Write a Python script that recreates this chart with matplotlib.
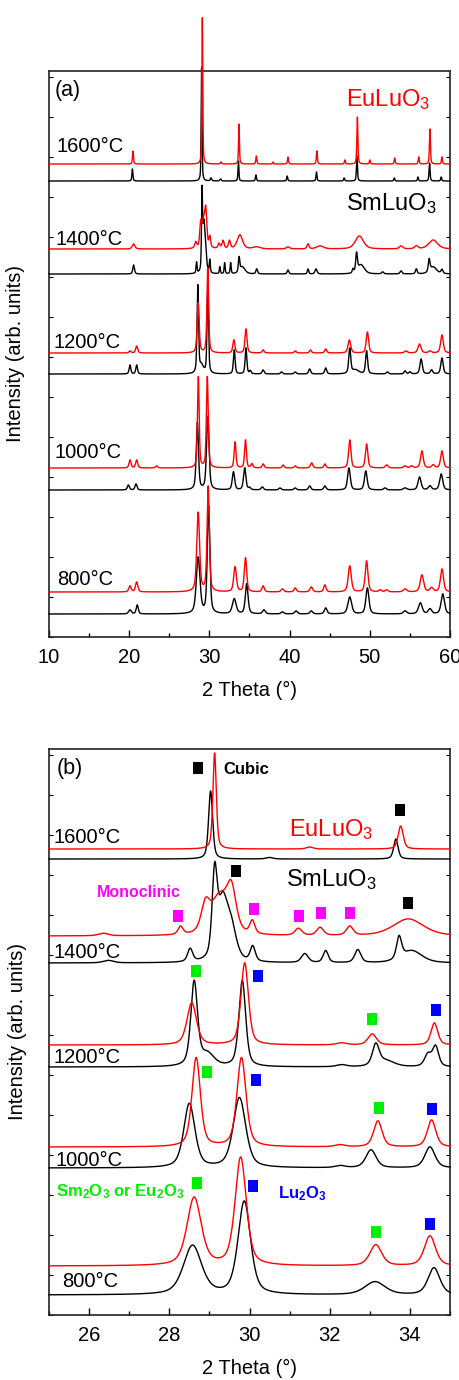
import numpy as np
import matplotlib
matplotlib.use('Agg')
import matplotlib.pyplot as plt
from matplotlib.ticker import MultipleLocator, NullFormatter
from matplotlib.path import Path

plt.rcParams['font.family'] = ['Liberation Sans', 'DejaVu Sans']
plt.rcParams['mathtext.fontset'] = 'custom'
plt.rcParams['mathtext.rm'] = 'Liberation Sans'
plt.rcParams['mathtext.bf'] = 'Liberation Sans:bold'
plt.rcParams['mathtext.it'] = 'Liberation Sans:italic'

# ---------------- data ----------------
temps = ['1600°C', '1400°C', '1200°C', '1000°C', '800°C']

# stacking offsets (arb. units) for EuLuO3 (red) and SmLuO3 (black)
a_red_offsets = [473, 388, 284, 169, 45]
a_black_offsets = [456, 363, 263, 147, 23]
b_red_offsets = [466, 379, 270, 168, 49]
b_black_offsets = [456, 352, 248, 147, 20]

# peaks: (2theta, height, FWHM)
a_red_peaks = [
    [(20.47, 13, .15), (29.12, 147, .13), (31.45, 2, .15), (33.69, 40, .13), (35.85, 8, .15),
     (37.93, 2, .15), (39.8, 7, .15), (43.4, 13, .15), (46.9, 4, .15), (48.45, 47, .15),
     (50.0, 4, .15), (53.1, 6, .15), (56.1, 7, .15), (57.5, 35, .15), (59.0, 7, .15)],
    [(20.55, 5, .4), (28.3, 6, .3), (28.9, 20, .25), (29.25, 27, .5), (29.55, 32, .3),
     (30.05, 11, .25), (31.2, 5, .3), (31.7, 8, .3), (32.5, 8, .3), (33.8, 14, .8),
     (35.9, 2, 1.0), (39.8, 2, .5), (42.3, 5, .3), (43.8, 3, 1.0), (48.7, 13, 1.2),
     (53.9, 3, .5), (55.8, 3, .5), (57.9, 9, 1.3)],
    [(20.1, 2, .3), (20.93, 7, .3), (28.6, 50, .3), (29.8, 85, .25), (33.05, 13, .3),
     (34.56, 24, .3), (36.7, 3, .3), (40.7, 2, .3), (42.6, 3, .3), (44.5, 4, .3),
     (47.45, 13, .4), (49.7, 21, .35), (54.5, 2, .4), (56.2, 9, .45), (57.5, 2, .4),
     (59.0, 18, .4)],
    [(20.1, 8, .3), (20.93, 8, .3), (23.4, 2, .3), (28.62, 91, .25), (29.74, 91, .27),
     (33.2, 26, .27), (34.5, 28, .27), (35.3, 4, .3), (36.7, 4, .3), (39.2, 3, .3),
     (40.7, 2, .3), (42.75, 5, .35), (44.4, 4, .3), (47.5, 28, .35), (49.6, 24, .35),
     (52.1, 3, .4), (54.4, 2, .4), (55.2, 2, .4), (56.5, 17, .4), (57.9, 3, .4),
     (59.0, 17, .4)],
    [(20.1, 6, .35), (20.93, 10, .35), (28.6, 79, .42), (29.85, 105, .33), (33.2, 25, .4),
     (34.5, 34, .35), (36.7, 6, .35), (39.1, 3, .4), (40.7, 4, .35), (42.7, 5, .4),
     (44.4, 7, .35), (47.5, 26, .45), (49.6, 31, .4), (51.3, 2, .4), (52.1, 2, .4),
     (54.4, 3, .5), (56.5, 17, .5), (57.7, 4, .5), (59.0, 23, .45)],
]
a_black_peaks = [
    [(20.40, 12, .15), (29.03, 114, .13), (30.2, 3, .2), (31.4, 2, .2), (33.62, 20, .13),
     (35.8, 6, .15), (39.7, 5, .15), (43.35, 9, .15), (46.8, 3, .15), (48.4, 25, .15),
     (53.05, 3, .15), (56.0, 4, .15), (57.45, 18, .15), (58.9, 4, .15)],
    [(20.55, 9, .25), (28.4, 11, .15), (29.08, 75, .15), (29.3, 45, .3), (29.52, 22, .3),
     (30.05, 13, .15), (31.3, 7, .15), (31.9, 11, .15), (32.65, 11, .15), (33.7, 14, .2),
     (34.1, 7, .8), (35.9, 5, .25), (39.8, 4, .25), (42.3, 5, .2), (43.3, 5, .3),
     (47.9, 4, .2), (48.35, 18, .25), (48.9, 9, 1.0), (51.6, 2, .3), (53.9, 3, .3),
     (55.8, 5, .25), (57.4, 12, .25), (57.9, 7, 1.0), (59.0, 4, .3)],
    [(20.1, 9, .25), (20.93, 9, .25), (28.55, 87, .22), (29.0, 8, .6), (29.8, 89, .22),
     (33.1, 24, .25), (34.56, 26, .25), (35.1, 3, .25), (36.7, 4, .3), (39.0, 2, .3),
     (40.7, 2, .3), (42.5, 5, .3), (44.5, 6, .3), (47.5, 25, .3), (48.2, 4, 1.0),
     (49.6, 23, .3), (52.2, 2, .3), (54.4, 3, .3), (55.0, 2, .3), (56.4, 15, .35),
     (57.7, 4, .35), (59.0, 16, .35)],
    [(19.9, 5, .3), (20.85, 6, .3), (28.5, 67, .33), (29.8, 73, .37), (33.0, 18, .35),
     (34.4, 22, .35), (35.0, 2, .3), (36.6, 3, .35), (38.8, 2, .35), (40.7, 2, .35),
     (42.5, 4, .35), (44.4, 4, .35), (47.4, 22, .4), (49.5, 19, .4), (51.9, 2, .4),
     (54.4, 2, .5), (56.2, 13, .45), (57.5, 4, .45), (58.9, 16, .45)],
    [(20.1, 4, .4), (21.0, 9, .3), (28.6, 56, .54), (29.9, 107, .37), (33.1, 15, .55),
     (34.65, 30, .4), (36.8, 4, .4), (39.1, 2, .4), (40.8, 3, .4), (42.7, 3, .4),
     (44.5, 6, .4), (47.5, 17, .55), (49.7, 26, .45), (54.4, 3, .5), (56.3, 11, .55),
     (57.5, 5, .5), (59.1, 20, .5)],
]

b_red_peaks = [
    [(29.13, 96, .10), (31.5, 2, .2), (33.77, 23, .15)],
    [(26.35, 2.5, .3), (28.28, 8, .15), (28.9, 26, .25), (29.25, 38, .5), (29.55, 40, .28),
     (30.07, 13, .15), (31.22, 7, .2), (31.76, 8, .2), (32.5, 9, .2), (33.96, 17, .9)],
    [(28.56, 42, .28), (29.88, 82, .22), (32.3, 2, .3), (33.06, 11, .25), (34.61, 22, .2)],
    [(28.67, 89, .25), (29.8, 89, .27), (32.26, 2, .3), (33.2, 26, .25), (34.54, 27, .25)],
    [(28.62, 68, .42), (29.78, 108, .33), (33.15, 21, .35), (34.5, 30, .33)],
]
b_black_peaks = [
    [(29.03, 68, .12), (30.5, 1.5, .2), (33.65, 20, .13)],
    [(26.48, 2.5, .3), (28.52, 13, .15), (29.13, 80, .15), (29.33, 58, .3), (29.55, 30, .3),
     (30.08, 15, .15), (31.38, 9, .2), (31.9, 12, .15), (32.7, 13, .18), (33.73, 22, .15),
     (34.05, 12, .6)],
    [(28.62, 84, .2), (28.95, 12, .4), (29.82, 86, .2), (32.3, 2, .3), (33.15, 21, .2),
     (33.4, 6, .5), (34.45, 12, .2), (34.64, 20, .18)],
    [(28.5, 64, .33), (29.75, 70, .37), (32.26, 2, .3), (33.03, 18, .3), (34.5, 21, .3)],
    [(28.58, 49, .54), (29.87, 93, .37), (33.13, 13, .6), (34.6, 27, .35)],
]

# phase markers in panel (b): (2theta, height)
cubic_marks = [(28.72, 547), (33.75, 505), (29.66, 444), (33.95, 412)]
mono_marks = [(28.22, 399), (30.12, 406), (31.23, 399), (31.78, 402), (32.51, 402)]
re2o3_marks = [(28.67, 344), (33.06, 296), (28.93, 243), (33.23, 207), (28.68, 132), (33.15, 83)]
lu2o3_marks = [(30.2, 339), (34.64, 305), (30.16, 235), (34.55, 206), (30.08, 129), (34.51, 91)]

RED = '#ff0000'
MAG = '#ff00ff'
GRN = '#00ee00'
BLU = '#0000ff'


def profile(x, peaks):
    y = np.zeros_like(x)
    for p, h, w in peaks:
        r2 = ((x - p) / (w / 2.0)) ** 2
        y += h * (0.5 / (1 + r2) + 0.5 * np.exp(-np.log(2) * r2))
    return y


W, H = 460, 1380
fig = plt.figure(figsize=(W / 100, H / 100), dpi=100)


def fpos(px, py):
    return px / W, 1 - py / H


axa = fig.add_axes([49 / W, 1 - 637 / H, 401 / W, 566 / H])
axb = fig.add_axes([49 / W, 1 - 1315 / H, 401 / W, 566 / H])

FS = 14.5

for ax, (x0, x1), reds, blacks, roff, boff, maj, mnr in [
        (axa, (10, 60), a_red_peaks, a_black_peaks, a_red_offsets, a_black_offsets, 10, 5),
        (axb, (25, 35), b_red_peaks, b_black_peaks, b_red_offsets, b_black_offsets, 2, 1)]:
    x = np.linspace(x0, x1, 4001)
    for i in range(len(temps)):
        ax.plot(x, boff[i] + profile(x, blacks[i]), color='black', lw=1.0, clip_on=False, zorder=3)
        ax.plot(x, roff[i] + profile(x, reds[i]), color=RED, lw=1.0, clip_on=False, zorder=3)
    ax.set_xlim(x0, x1)
    ax.set_ylim(0, 566)
    ax.xaxis.set_major_locator(MultipleLocator(maj))
    ax.xaxis.set_minor_locator(MultipleLocator(mnr))
    ax.yaxis.set_major_locator(MultipleLocator(40))
    ax.yaxis.set_major_formatter(NullFormatter())
    ax.tick_params(axis='x', which='major', direction='in', length=5, width=1, labelsize=FS, pad=8,
                   top=False)
    ax.tick_params(axis='x', which='minor', direction='in', length=3, width=1, top=False)
    ax.tick_params(axis='y', which='major', direction='in', length=3, width=0.8, left=True, right=True)
    for s in ax.spines.values():
        s.set_linewidth(1.2)
        s.set_color('#222222')
    ax.set_xlabel('2 Theta (°)', fontsize=FS)
    ax.set_ylabel('Intensity (arb. units)', fontsize=FS)
    ax.xaxis.set_label_coords(0.5, -0.078)
    ax.yaxis.set_label_coords(-0.06, 0.5)

axb.yaxis.set_label_coords(-0.055, 0.5)

# rectangle marker
rect = Path([(-0.38, -0.5), (0.38, -0.5), (0.38, 0.5), (-0.38, 0.5), (-0.38, -0.5)],
            [Path.MOVETO, Path.LINETO, Path.LINETO, Path.LINETO, Path.CLOSEPOLY])
for marks, col in [(cubic_marks, 'black'), (mono_marks, MAG), (re2o3_marks, GRN), (lu2o3_marks, BLU)]:
    xs = [m[0] for m in marks]
    ys = [m[1] for m in marks]
    axb.plot(xs, ys, linestyle='none', marker=rect, markersize=8.8, color=col,
             markeredgewidth=0, zorder=4)

# panel labels & texts
fig.text(*fpos(55, 96), '(a)', fontsize=15.5, ha='left', va='baseline')
fig.text(*fpos(57, 774), '(b)', fontsize=15.5, ha='left', va='baseline')

fig.text(*fpos(346, 106.5), 'EuLuO$_3$', color=RED, fontsize=17, ha='left', va='baseline')
fig.text(*fpos(346, 210), 'SmLuO$_3$', color='black', fontsize=17, ha='left', va='baseline')
fig.text(*fpos(289, 836.5), 'EuLuO$_3$', color=RED, fontsize=17, ha='left', va='baseline')
fig.text(*fpos(286, 886.5), 'SmLuO$_3$', color='black', fontsize=17, ha='left', va='baseline')

a_label_pos = [(57, 152.3), (55.5, 245), (53.3, 347.5), (54.3, 458.3), (57.3, 585)]
b_label_pos = [(54, 842.7), (54, 957.7), (54, 1062.7), (55.3, 1166), (61.7, 1286.7)]
for t, (px, py) in zip(temps, a_label_pos):
    fig.text(*fpos(px, py), t, fontsize=FS, ha='left', va='baseline')
for t, (px, py) in zip(temps, b_label_pos):
    fig.text(*fpos(px, py), t, fontsize=FS, ha='left', va='baseline')

fig.text(*fpos(223, 774), 'Cubic', fontsize=12, fontweight='bold', ha='left', va='baseline')
fig.text(*fpos(96.5, 897), 'Monoclinic', color=MAG, fontsize=11.5, fontweight='bold',
         ha='left', va='baseline')
fig.text(*fpos(56, 1196), r'Sm$_\mathbf{2}$O$_\mathbf{3}$ or Eu$_\mathbf{2}$O$_\mathbf{3}$',
         color=GRN, fontsize=12, fontweight='bold', ha='left', va='baseline')
fig.text(*fpos(277.5, 1198), r'Lu$_\mathbf{2}$O$_\mathbf{3}$', color=BLU, fontsize=12,
         fontweight='bold', ha='left', va='baseline')

fig.savefig('out.png', dpi=100)
